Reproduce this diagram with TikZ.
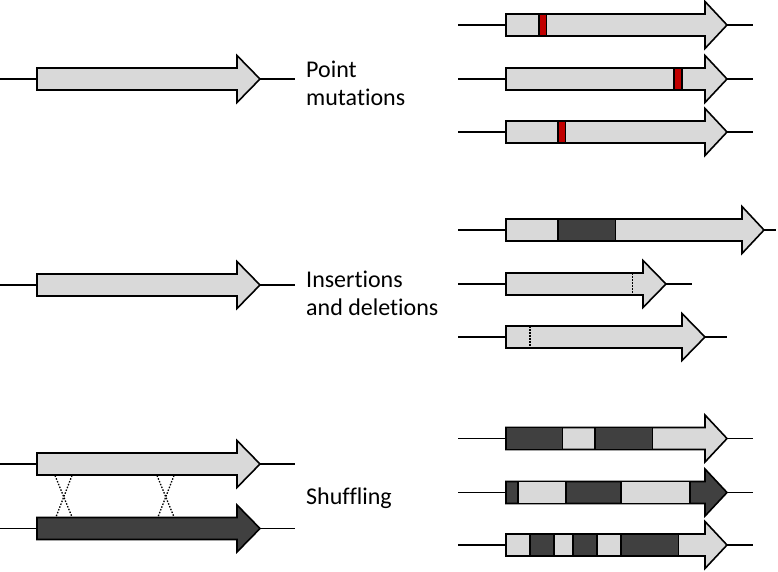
\documentclass[tikz,border=0pt]{standalone}
\usepackage{fontspec}
\setmainfont[Ligatures=NoCommon]{Carlito}
\definecolor{lg}{HTML}{D9D9D9}
\definecolor{dg}{HTML}{404040}
\definecolor{rd}{HTML}{C00000}
\tikzset{
  dna/.style={line width=1.8pt},
  gene/.style={draw=black, line width=1.6pt, line join=miter},
  segbox/.style={draw=black, line width=1.6pt},
  cutline/.style={line width=1.3pt, dash pattern=on 1.5pt off 1.5pt},
  label/.style={anchor=base west, inner sep=0pt, align=left, font=\fontsize{24}{28.5}\selectfont}
}
% y, line start, body left, head base, tip, line end, fill
\newcommand\genearrow[7]{%
  \draw[dna] (#2,#1) -- (#6,#1);
  \draw[gene,fill=#7] (#3,#1-11) -- (#4,#1-11) -- (#4,#1-23.5) -- (#5,#1) -- (#4,#1+23.5) -- (#4,#1+11) -- (#3,#1+11) -- cycle;}
% y, x0, x1, fill
\newcommand\genesegment[4]{\draw[segbox,fill=#4] (#2,#1-11) rectangle (#3,#1+11);}
\begin{document}
\begin{tikzpicture}[x=1pt,y=-1pt]
\useasboundingbox (0,0) rectangle (778,571);
% left originals
\genearrow{79}{0}{37}{237}{260}{295}{lg}
\genearrow{285}{0}{37}{237}{260}{295}{lg}
\genearrow{464}{0}{37}{237}{260}{295}{lg}
\genearrow{528.5}{0}{37}{237}{260}{295}{dg}
% crossovers
\draw[cutline] (55,475.5) -- (72,517);
\draw[cutline] (72,475.5) -- (56,517);
\draw[cutline] (157,475.5) -- (174,517);
\draw[cutline] (174,475.5) -- (158,517);
% labels
\node[label] (pm) at (306,105.5) {Point\\mutations};
\node[label] (id) at (306,315.5) {Insertions\\and deletions};
\node[label] (sh) at (306,504) {Shuffling};
% point mutations
\genearrow{25}{458}{506}{705}{727}{753}{lg}
\genesegment{25}{539}{546.5}{rd}
\genearrow{79}{458}{506}{705}{727}{753}{lg}
\genesegment{79}{674}{682}{rd}
\genearrow{132}{458}{506}{705}{727}{753}{lg}
\genesegment{132}{558}{565.5}{rd}
% insertions and deletions
\genearrow{230}{458}{506}{742}{764}{776}{lg}
\genesegment{230}{558}{615.5}{dg}
\genearrow{284}{458}{506}{643}{666}{692}{lg}
\draw[cutline] (632.7,273) -- (632.7,295);
\genearrow{337}{458}{506}{682}{705}{727}{lg}
\draw[cutline] (530,326) -- (530,348);
% shuffling
\genearrow{438.5}{458}{506}{705}{727}{753}{lg}
\genesegment{438.5}{506}{562.3}{dg}
\genesegment{438.5}{595}{652.3}{dg}
\genearrow{492.5}{458}{506}{705}{727}{753}{dg}
\genesegment{492.5}{517.7}{565.7}{lg}
\genesegment{492.5}{621}{690}{lg}
\genearrow{545}{458}{506}{705}{727}{753}{lg}
\genesegment{545}{530}{554}{dg}
\genesegment{545}{572.7}{596.7}{dg}
\genesegment{545}{620.7}{678.3}{dg}
\end{tikzpicture}
\end{document}
